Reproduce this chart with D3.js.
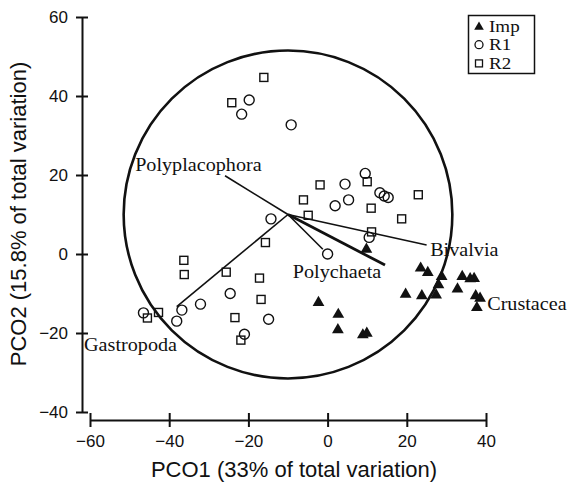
<!DOCTYPE html>
<html>
<head>
<meta charset="utf-8">
<script src="https://cdn.jsdelivr.net/npm/d3@7"></script>
<style>
  body { margin: 0; background: #fff; }
  svg { display: block; }
</style>
</head>
<body>
<svg id="chart"></svg>
<script>
// ---- data ----
var xTicks = [-60, -40, -20, 0, 20, 40];
var yTicks = [-40, -20, 0, 20, 40, 60];

// R1 samples (open circles)
var r1X = [-19.8, -21.7, -9.2, 4.4, 9.5, 13.2, 14.3, 15.3, 5.3, 1.9, 10.5, 0, -14.3, -24.6, -32.1, -36.8, -38.1, -46.5, -14.9, -21.0];
var r1Y = [39.0, 35.4, 32.7, 17.7, 20.4, 15.5, 14.7, 14.3, 13.7, 12.2, 4.2, 0, 8.9, -10.0, -12.7, -14.2, -17.0, -14.9, -16.5, -20.3];

// R2 samples (open squares)
var r2X = [-16.1, -24.2, -1.9, 10.0, 22.9, -6.1, 11.0, 18.7, -4.9, 11.1, -15.7, -36.3, -36.2, -25.6, -17.2, -16.8, -45.5, -42.7, -23.4, -21.9];
var r2Y = [44.7, 38.3, 17.5, 18.3, 15.0, 13.7, 11.6, 8.9, 9.8, 5.6, 2.9, -1.6, -5.2, -4.6, -6.1, -11.5, -16.2, -14.8, -16.1, -21.8];

// Imp samples (filled triangles)
var impX = [9.8, -2.3, 2.7, 2.6, 8.9, 9.9, 19.7, 23.5, 25.3, 23.8, 27.4, 28.0, 28.8, 32.8, 34.0, 36.0, 37.0, 37.4, 38.5, 37.7];
var impY = [1.2, -12.3, -15.3, -19.2, -20.5, -20.1, -10.2, -3.6, -4.7, -10.6, -10.4, -7.8, -5.7, -8.9, -5.7, -6.3, -6.2, -10.6, -11.2, -13.6];

// vector overlay: origin, circle radius, vector tips and label anchors
var vecOrigin = [-10, 10];
var circleRadius = 41.5;
var vecNames = ["Polyplacophora", "Gastropoda", "Bivalvia", "Polychaeta", "Crustacea"];
var vecX = [-25.9, -38.1, 25.0, -1.2, 14.5];
var vecY = [19.8, -13.3, 2.3, 1.2, -2.8];
var vecThick = [false, false, false, false, true];
var labelX = [-48.6, -61.5, 25.9, -8.8, 40.3];
var labelY = [21.1, -24.5, -0.5, -6.0, -14.1];

var legendNames = ["Imp", "R1", "R2"];

// ---- layout ----
var width = 567, height = 485;

var svg = d3.select('#chart')
    .attr('width', width)
    .attr('height', height);

var xScale = d3.scaleLinear().domain([-60, 40]).range([90, 486]);
var yScale = d3.scaleLinear().domain([-40, 60]).range([412, 17]);

var sansFont = "'Liberation Sans', Arial, Helvetica, sans-serif";
var serifFont = "'Liberation Serif', 'Times New Roman', serif";

// correlation circle
svg.append('ellipse')
    .attr('cx', xScale(vecOrigin[0]))
    .attr('cy', yScale(vecOrigin[1]))
    .attr('rx', xScale(vecOrigin[0] + circleRadius) - xScale(vecOrigin[0]))
    .attr('ry', yScale(vecOrigin[1]) - yScale(vecOrigin[1] + circleRadius))
    .attr('fill', 'none')
    .attr('stroke', '#111')
    .attr('stroke-width', 2.6);

// vectors
vecNames.forEach(function(name, i) {
    svg.append('line')
        .attr('x1', xScale(vecOrigin[0]))
        .attr('y1', yScale(vecOrigin[1]))
        .attr('x2', xScale(vecX[i]))
        .attr('y2', yScale(vecY[i]))
        .attr('stroke', '#111')
        .attr('stroke-width', vecThick[i] ? 2.8 : 1.6);

    svg.append('text')
        .attr('transform', 'translate(' + [xScale(labelX[i]), yScale(labelY[i])] + ') scale(1.12,1)')
        .text(name)
        .style('font-family', serifFont)
        .style('font-size', '18px')
        .attr('fill', '#111');
});

// points
var tri = d3.symbol().type(d3.symbolTriangle).size(60);

svg.append('g').selectAll('circle')
    .data(d3.range(r1X.length))
    .enter().append('circle')
    .attr('cx', function(i) { return xScale(r1X[i]); })
    .attr('cy', function(i) { return yScale(r1Y[i]); })
    .attr('r', 5)
    .attr('fill', 'none')
    .attr('stroke', '#111')
    .attr('stroke-width', 1.4);

svg.append('g').selectAll('rect')
    .data(d3.range(r2X.length))
    .enter().append('rect')
    .attr('x', function(i) { return xScale(r2X[i]) - 4; })
    .attr('y', function(i) { return yScale(r2Y[i]) - 4; })
    .attr('width', 8)
    .attr('height', 8)
    .attr('fill', 'none')
    .attr('stroke', '#111')
    .attr('stroke-width', 1.4);

svg.append('g').selectAll('path')
    .data(d3.range(impX.length))
    .enter().append('path')
    .attr('d', tri)
    .attr('transform', function(i) { return 'translate(' + [xScale(impX[i]), yScale(impY[i])] + ')'; })
    .attr('fill', '#111');

// axes
var xAxis = d3.axisBottom(xScale).tickValues(xTicks).tickSize(7).tickSizeOuter(0).tickPadding(8);
var yAxis = d3.axisLeft(yScale).tickValues(yTicks).tickSize(6).tickSizeOuter(0).tickPadding(8);

var gx = svg.append('g')
    .attr('transform', 'translate(0,420)')
    .call(xAxis);
gx.selectAll('.tick line').attr('y1', -7);

var gy = svg.append('g')
    .attr('transform', 'translate(82,0)')
    .call(yAxis);
gy.selectAll('.tick line').attr('x1', 6);

[gx, gy].forEach(function(g) {
    g.selectAll('path, line').attr('stroke', '#111').attr('stroke-width', 2);
    g.selectAll('text')
        .attr('fill', '#111')
        .style('font-family', sansFont)
        .style('font-size', '17px');
});

// axis titles
svg.append('text')
    .attr('transform', 'translate(294,477)')
    .attr('text-anchor', 'middle')
    .text('PCO1 (33% of total variation)')
    .style('font-family', sansFont)
    .style('font-size', '22px')
    .attr('fill', '#111');

svg.append('text')
    .attr('transform', 'translate(26,214) rotate(270)')
    .attr('text-anchor', 'middle')
    .text('PCO2 (15.8% of total variation)')
    .style('font-family', sansFont)
    .style('font-size', '22px')
    .attr('fill', '#111');

// legend
var legend = svg.append('g');
legend.append('rect')
    .attr('x', 468.5)
    .attr('y', 15.5)
    .attr('width', 66)
    .attr('height', 58)
    .attr('fill', '#fff')
    .attr('stroke', '#111')
    .attr('stroke-width', 1.5);

legendNames.forEach(function(name, i) {
    var cy = 26 + i * 18.7;
    if (i === 0) {
        legend.append('path')
            .attr('d', d3.symbol().type(d3.symbolTriangle).size(40)())
            .attr('transform', 'translate(479,' + (cy + 1) + ')')
            .attr('fill', '#111');
    } else if (i === 1) {
        legend.append('circle')
            .attr('cx', 479).attr('cy', cy).attr('r', 4)
            .attr('fill', 'none').attr('stroke', '#111').attr('stroke-width', 1.3);
    } else {
        legend.append('rect')
            .attr('x', 475.5).attr('y', cy - 3.5).attr('width', 7).attr('height', 7)
            .attr('fill', 'none').attr('stroke', '#111').attr('stroke-width', 1.3);
    }
    legend.append('text')
        .attr('transform', 'translate(489,' + (cy + 5.5) + ') scale(1.12,1)')
        .text(name)
        .style('font-family', serifFont)
        .style('font-size', '17px')
        .attr('fill', '#111');
});
</script>
</body>
</html>
